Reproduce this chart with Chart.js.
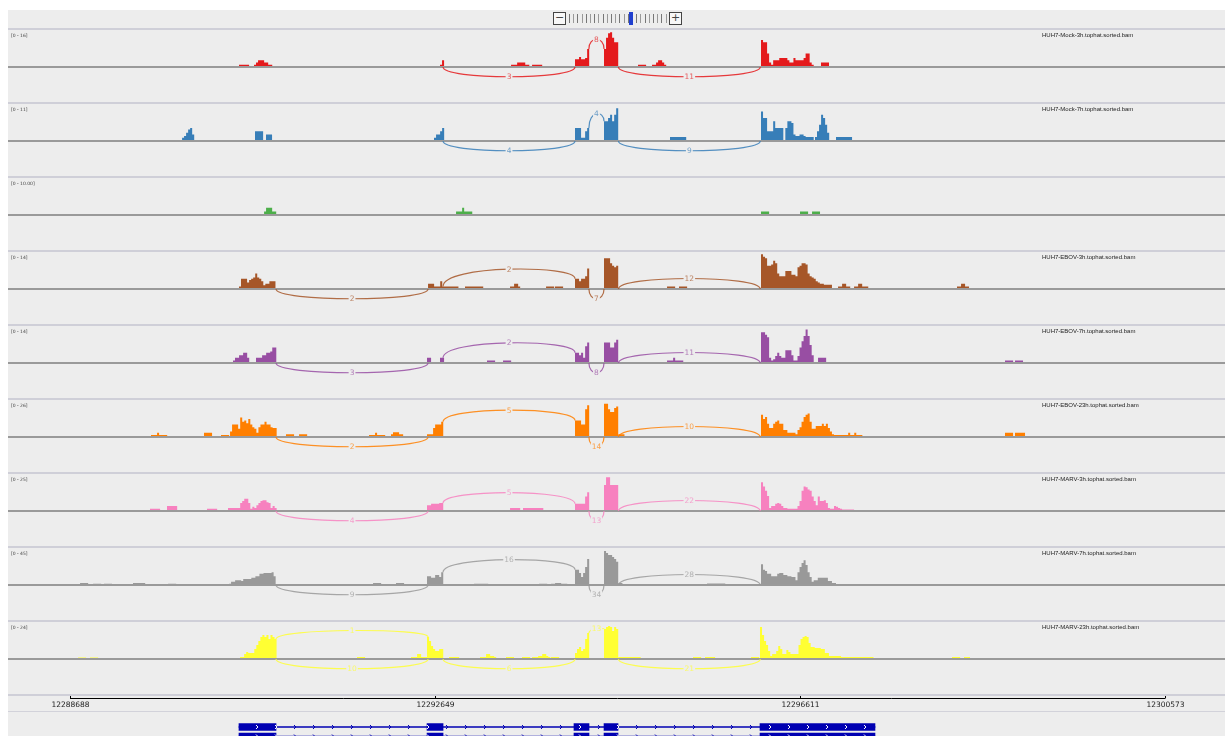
<!DOCTYPE html>
<html>
<head>
<meta charset="utf-8">
<script src="https://cdn.jsdelivr.net/npm/chart.js@4.4.1/dist/chart.umd.min.js"></script>
<style>
  body { margin: 0; width: 1225px; height: 736px; overflow: hidden; background: #fff; font-family: "DejaVu Sans", sans-serif; position: relative; }
  #panel { position: absolute; left: 8px; top: 10px; width: 1217px; height: 726px; background: #ededed; }
  .trk { position: absolute; left: 8px; }
  .sep { position: absolute; left: 8px; width: 1217px; height: 2px; background: #cfcfd8; }
  .rng { position: absolute; left: 11px; font-size: 4.5px; color: #444; white-space: nowrap; }
  .nm { position: absolute; left: 1042px; font-family: "Liberation Sans", sans-serif; font-size: 6px; color: #222; white-space: nowrap; }
  .zb { position: absolute; top: 0; width: 11px; height: 11px; border: 1px solid #444; background: #f7f7f7; font: 11px/10px "DejaVu Sans"; text-align: center; color: #444; }
  .zt { position: absolute; top: 2px; width: 1px; height: 9px; background: #777; }
</style>
</head>
<body>
<div id="panel"></div>
<div id="zoomw" style="position:absolute;left:553px;top:12px;width:130px;height:14px;"></div>
<canvas id="gene" class="trk" width="1217" height="56" style="top:694px"></canvas>
<script>
// view window (genomic coordinates) and coverage bin size
const VIEW_MIN = 12288015;
const VIEW_MAX = 12301224;
const BIN = 22;

const axisTicks = [12288688, 12292649, 12296611, 12300573];

const trackNames = ['HUH7-Mock-3h.tophat.sorted.bam', 'HUH7-Mock-7h.tophat.sorted.bam', '',
  'HUH7-EBOV-3h.tophat.sorted.bam', 'HUH7-EBOV-7h.tophat.sorted.bam', 'HUH7-EBOV-23h.tophat.sorted.bam',
  'HUH7-MARV-3h.tophat.sorted.bam', 'HUH7-MARV-7h.tophat.sorted.bam', 'HUH7-MARV-23h.tophat.sorted.bam'];
const trackRanges = ['16', '11', '10.00', '14', '14', '26', '25', '45', '24'];
const trackMax = [16, 11, 10, 14, 14, 26, 25, 45, 24];
const trackColors = ['#e41a1c', '#377eb8', '#4daf4a', '#a65628', '#984ea3', '#ff7f00', '#f781bf', '#999999', '#ffff33'];

// coverage: [region start, depth per bin]
const covMock3h = [
  [12290522, [1, 1, 1, 1, 1]],
  [12290685, [1, 2, 3, 3, 3, 2, 2, 1, 1]],
  [12292704, [1, 3]],
  [12293475, [1, 1, 1, 2, 2, 2, 2, 1, 1]],
  [12293703, [1, 1, 1, 1, 1]],
  [12294169, [3.5, 3.5, 4.5, 3.5, 3.5, 4, 8]],
  [12294484, [8, 13, 15, 15.5, 13, 11, 11]],
  [12294853, [1, 1, 1, 1]],
  [12295005, [1, 1, 2, 3, 3, 2, 1]],
  [12296188, [12, 11, 11, 6, 2, 1, 3, 3, 3, 4, 4, 4, 4, 3, 2, 2, 4, 3, 3, 3, 3, 4, 6, 6, 2, 1]],
  [12296839, [2, 2, 2, 2]]
];
const covMock7h = [
  [12289904, [1, 1.5, 2.5, 3.5, 4, 2]],
  [12290696, [3, 3, 3, 3]],
  [12290815, [2, 2, 2]],
  [12292639, [1, 2, 2, 3, 4]],
  [12294169, [4, 4, 4, 1, 1, 3, 4]],
  [12294484, [6, 6, 7, 8, 6, 8, 10]],
  [12295200, [1.2, 1.2, 1.2, 1.2, 1.2, 1.2, 1.2, 1.2]],
  [12296188, [9, 7, 7, 3, 3, 3, 6, 4, 4, 4, 4, 0, 4, 6, 6, 5.5, 2, 1.5, 1.5, 2, 2, 1.5, 1.2, 1.2, 1.2, 1.2]],
  [12296774, [1.2, 3, 5, 8, 7, 5, 2.5]],
  [12297002, [1.2, 1.2, 1.2, 1.2, 1.2, 1.2, 1.2, 1.2]]
];
const covMock23h = [
  [12290794, [1, 2, 2, 2, 1, 1]],
  [12292878, [1, 1, 1, 2, 1, 1, 1, 1]],
  [12296188, [1, 1, 1, 1]],
  [12296611, [1, 1, 1, 1]],
  [12296742, [1, 1, 1, 1]]
];
const covEbov3h = [
  [12290522, [1, 4, 4, 4, 2.5, 3.5, 4, 4.5, 6, 4.5, 4, 3, 1.5, 2, 2, 3, 3, 3]],
  [12292574, [2, 2, 2, 1, 1, 1, 3, 1, 1, 1, 1, 1, 1, 1, 1]],
  [12292975, [1, 1, 1, 1, 1, 1, 1, 1, 1]],
  [12293464, [1, 1, 2, 2, 1]],
  [12293855, [1, 1, 1, 1]],
  [12293952, [1, 1, 1, 1]],
  [12294169, [4, 4, 3, 4, 4, 5, 8]],
  [12294484, [12, 12, 12, 10, 9, 8.5, 9]],
  [12295168, [1, 1, 1, 1]],
  [12295298, [1, 1, 1, 1]],
  [12296188, [13.5, 12.5, 12, 9, 9, 9.5, 11, 10, 6, 5, 5, 5, 7, 7, 7, 5.5, 5.5, 5, 8.5, 9, 10, 10, 9.5, 6, 5, 4.5, 4, 3, 2.5, 2, 2, 1.7, 1.7, 1.7, 1.7]],
  [12297024, [1, 1, 2, 2, 1, 1]],
  [12297198, [1, 1, 2, 2, 1, 1, 1]],
  [12298315, [1, 1, 2, 2, 1, 1]]
];
const covEbov7h = [
  [12290457, [1, 2, 2, 3, 3, 4, 4, 2]],
  [12290707, [2, 2, 2, 3, 3, 4, 4, 4.5, 6, 6]],
  [12292563, [2, 2]],
  [12292704, [2, 2]],
  [12293214, [1, 1, 1, 1]],
  [12293388, [1, 1, 1, 1]],
  [12294169, [4, 4, 3, 4, 2, 6.5, 8]],
  [12294484, [8, 8, 8, 6, 6, 8, 9]],
  [12295168, [1, 1, 1, 2, 1, 1, 1, 1]],
  [12296188, [12, 12, 11, 10, 2, 1, 1.5, 2.7, 4, 2.7, 2, 2, 5, 5, 5, 3, 1, 1, 2.7, 6, 8.5, 10.5, 13, 10.5, 7, 3]],
  [12296807, [2, 2, 2, 2]],
  [12298836, [1, 1, 1, 1]],
  [12298945, [1, 1, 1, 1]]
];
const covEbov23h = [
  [12289567, [1.5, 1.5, 1.5, 3, 1.5, 1.5, 1.5, 1.5]],
  [12290142, [3, 3, 3, 3]],
  [12290327, [1.5, 1.5, 1.5, 1.5]],
  [12290425, [4, 9, 9, 9, 6, 14, 11, 12, 10, 13, 9, 7, 6, 3, 7, 9, 9, 11, 9, 9, 7, 6.5, 6.5]],
  [12291032, [2, 2, 2, 2]],
  [12291174, [2, 2, 2, 2]],
  [12291933, [1.5, 1.5, 1.5, 3, 1.5, 1.5, 1.5, 1.5]],
  [12292172, [2, 3.5, 3.5, 3.5, 2, 2]],
  [12292563, [2, 2, 2, 6.5, 9, 9, 9, 11]],
  [12294169, [12, 12, 12, 9, 9, 20, 23]],
  [12294484, [24, 24, 20, 18, 18, 21, 22]],
  [12294640, [2, 2, 2]],
  [12296188, [16, 13, 14.5, 9.5, 6.5, 6.5, 9.5, 11, 12, 9.5, 9.5, 5, 5, 3, 3, 3, 3, 2, 5, 7, 11, 14.5, 16, 17, 11, 6, 6, 8, 8, 8, 9.5, 8, 9.5, 6.5, 4, 2, 1.5, 1.5, 1.5, 1.5, 1.5, 1.5, 1.5, 3, 1.5, 1.5, 3, 1.5, 1.5, 1.5]],
  [12298836, [3, 3, 3, 3]],
  [12298945, [3, 3, 3, 3, 3]]
];
const covMarv3h = [
  [12289556, [1.5, 1.5, 1.5, 1.5, 1.5]],
  [12289741, [3.5, 3.5, 3.5, 3.5, 3.5]],
  [12290175, [1.5, 1.5, 1.5, 1.5, 1.5]],
  [12290403, [2, 2, 2, 2, 2, 2, 5.5, 7, 8.5, 8.5, 5.5, 1.5, 3, 2, 4, 5.5, 7, 7.5, 7.5, 6, 5.5, 2, 3.5, 2]],
  [12292563, [4, 4, 5, 5, 5, 5, 5.5, 5.5]],
  [12293464, [2, 2, 2, 2, 2]],
  [12293605, [2, 2, 2, 2, 2, 2, 2, 2, 2, 2]],
  [12294169, [5, 5, 5, 5, 5, 10, 13]],
  [12294484, [18, 23.5, 23.5, 18, 18, 18, 18]],
  [12296188, [20, 17, 14, 10.5, 2, 3.5, 3.5, 5, 5.5, 5, 3.5, 2, 2, 1.5, 1.5, 1.5, 1.5, 1.5, 3.5, 7, 14, 17, 16.5, 15, 14, 10, 7, 4, 10, 7, 7, 7.5, 5.5, 2, 1.5, 1.5, 3.5, 3, 2, 1.5, 1, 1, 1, 1, 1, 1]]
];
const covMarv7h = [
  [12288797, [2.5, 2.5, 2.5, 2.5]],
  [12288938, [1.5, 1.5, 1.5, 1.5]],
  [12289057, [1.5, 1.5, 1.5, 1.5]],
  [12289372, [2.5, 2.5, 2.5, 2.5, 2.5, 2.5]],
  [12289752, [1.5, 1.5, 1.5, 1.5]],
  [12290414, [1.5, 4, 4, 6, 6, 6, 5, 7.5, 7.5, 7.5, 7.5, 9, 9, 11, 11, 14, 14, 15, 15, 15, 15, 16, 11]],
  [12291977, [2.5, 2.5, 2.5, 2.5]],
  [12292226, [2.5, 2.5, 2.5, 2.5]],
  [12292563, [11, 11, 9, 9, 12.5, 12.5, 10, 16]],
  [12293073, [1.5, 1.5, 1.5, 1.5, 1.5, 1.5, 1.5]],
  [12293779, [1.5, 1.5, 1.5, 1.5]],
  [12293909, [1.5, 1.5, 2.5, 2.5, 2.5, 1.5, 1.5, 1.5]],
  [12294169, [19, 19, 15, 10, 15, 22.5, 32.5]],
  [12294484, [42.5, 40, 37.5, 37.5, 35, 32.5, 29]],
  [12294640, [2.5, 2.5]],
  [12295602, [2, 2, 2, 2, 2, 2, 2, 2, 2]],
  [12296188, [26, 19, 17.5, 14, 14, 11, 11, 11, 14, 15, 15, 12.5, 12.5, 11, 11, 10, 10, 6, 16, 22.5, 27.5, 31, 25, 16, 10, 4, 6, 6, 9, 9, 9, 9, 9, 5, 5, 2.5, 2.5]]
];
const covMarv23h = [
  [12288775, [1, 1, 1, 1]],
  [12288905, [1, 1, 1, 1]],
  [12290468, [0.7, 0.7, 0.7, 1.3, 1.3, 3.3, 4.7, 4, 4, 4, 6.7, 9.3, 12, 14.7, 16, 14.7, 16, 13.3, 16, 14.7, 13.3]],
  [12291803, [1.3, 1.3, 1.3, 1.3]],
  [12292389, [1.3, 1.3, 1.3, 3.3, 3.3, 1.3, 1.3, 1.3]],
  [12292563, [14.7, 12, 8.7, 6.7, 5.3, 5.3, 6.7, 6.7]],
  [12292802, [1.3, 1.3, 1.3, 1.3, 1.3]],
  [12293138, [1.3, 1.3, 1.3, 3.3, 3.3, 2, 2, 1.3]],
  [12293420, [1.3, 1.3, 1.3, 1.3]],
  [12293594, [1.3, 1.3, 1.3, 1.3]],
  [12293703, [1.3, 1.3, 1.3, 2, 2, 3.3, 3.3, 2, 1.3]],
  [12293909, [1.3, 1.3, 1.3, 1.3]],
  [12294169, [4, 6.7, 8, 5.3, 6.7, 13.3, 17.3]],
  [12294484, [20, 21.3, 22, 21.3, 18.7, 21.3, 20]],
  [12294640, [1.3, 1.3, 1.3, 1.3, 1.3, 1.3, 1.3, 1.3, 1.3, 1.3, 1.3]],
  [12295450, [1.3, 1.3, 1.3, 1.3]],
  [12295580, [1.3, 1.3, 1.3, 1.3, 1.3]],
  [12296080, [1.3, 1.3, 1.3, 1.3]],
  [12296177, [21.3, 16, 12, 9.3, 5.3, 2, 3.3, 3.3, 5.3, 8.7, 6.7, 3.3, 3.3, 6, 4.7, 3.3, 3.3, 3.3, 3.3, 9.3, 13.3, 14.7, 15.3, 14.7, 10.7, 8, 8, 7.3, 7.3, 7.3, 6.7, 6.7, 4, 4, 2, 2, 2, 2, 2, 2,
    1.3, 1.3, 1.3, 1.3, 1.3, 1.3, 1.3, 1.3, 1.3, 1.3, 1.3, 1.3, 1.3, 1.3, 1.3, 1.3]],
  [12298261, [1.3, 1.3, 1.3, 1.3]],
  [12298391, [1.3, 1.3, 1.3]]
];

// splice junctions: [intron start, intron end, read count, side]
const jxMock3h = [[12292737, 12294169, 3, 'down'], [12294320, 12294484, 8, 'up'], [12294640, 12296180, 11, 'down']];
const jxMock7h = [[12292737, 12294169, 4, 'down'], [12294320, 12294484, 4, 'up'], [12294640, 12296180, 9, 'down']];
const jxMock23h = [];
const jxEbov3h = [[12290924, 12292574, 2, 'down'], [12292737, 12294169, 2, 'up'], [12294320, 12294484, 7, 'down'], [12294640, 12296180, 12, 'up']];
const jxEbov7h = [[12290924, 12292574, 3, 'down'], [12292737, 12294169, 2, 'up'], [12294320, 12294484, 8, 'down'], [12294640, 12296180, 11, 'up']];
const jxEbov23h = [[12290924, 12292574, 2, 'down'], [12292737, 12294169, 5, 'up'], [12294320, 12294484, 14, 'down'], [12294640, 12296180, 10, 'up']];
const jxMarv3h = [[12290924, 12292574, 4, 'down'], [12292737, 12294169, 5, 'up'], [12294320, 12294484, 13, 'down'], [12294640, 12296180, 22, 'up']];
const jxMarv7h = [[12290924, 12292574, 9, 'down'], [12292737, 12294169, 16, 'up'], [12294320, 12294484, 34, 'down'], [12294640, 12296180, 28, 'up']];
const jxMarv23h = [[12290924, 12292574, 1, 'up'], [12290924, 12292574, 10, 'down'], [12292737, 12294169, 6, 'down'], [12294320, 12294484, 13, 'up'], [12294640, 12296180, 21, 'down']];

// gene model
const transcripts = ['tx1', 'tx2'];
const exonStarts = [12290522, 12292563, 12294158, 12294484, 12296177];
const exonEnds = [12290924, 12292737, 12294321, 12294636, 12297425];

const allCov = [covMock3h, covMock7h, covMock23h, covEbov3h, covEbov7h, covEbov23h, covMarv3h, covMarv7h, covMarv23h];
const allJx = [jxMock3h, jxMock7h, jxMock23h, jxEbov3h, jxEbov7h, jxEbov23h, jxMarv3h, jxMarv7h, jxMarv23h];
const GENE_COLOR = '#0000b2';
const BG = '#ededed';

let depthAt = (cov, pos) => {
  for (const [s, vals] of cov) {
    const i = Math.floor((pos - s) / BIN);
    if (i >= 0 && i < vals.length) return vals[i];
  }
  return 0;
}

let sashimi = (cov, junctions, color) => ({
  id: 'sashimi',
  afterDatasetsDraw(chart) {
    const {ctx, chartArea} = chart;
    const x = chart.scales.x, y = chart.scales.y;
    const yb = y.getPixelForValue(0);
    ctx.save();
    ctx.strokeStyle = '#9a9a9a';
    ctx.lineWidth = 2;
    ctx.beginPath();
    ctx.moveTo(chartArea.left, yb);
    ctx.lineTo(chartArea.right, yb);
    ctx.stroke();

    junctions.forEach(([s, e, n, side]) => {
      const x1 = x.getPixelForValue(s), x2 = x.getPixelForValue(e);
      let y1 = yb, y2 = yb, cy;
      if (side === 'up') {
        y1 = y.getPixelForValue(depthAt(cov, s - 1));
        y2 = y.getPixelForValue(depthAt(cov, e + 1));
        cy = Math.max(Math.min(y1, y2) - 14, yb - 31);
      } else {
        cy = yb + 13;
      }
      ctx.globalAlpha = 0.85;
      ctx.strokeStyle = color;
      ctx.lineWidth = 1.2;
      ctx.beginPath();
      ctx.moveTo(x1, y1);
      ctx.bezierCurveTo(x1, cy, x2, cy, x2, y2);
      ctx.stroke();

      // count label on the apex
      const lx = (x1 + x2) / 2, ly = (y1 + y2) / 8 + 0.75 * cy;
      ctx.font = '7.5px "DejaVu Sans"';
      const w = ctx.measureText(String(n)).width;
      ctx.globalAlpha = 1;
      ctx.fillStyle = BG;
      ctx.fillRect(lx - w / 2 - 1, ly - 4, w + 2, 8);
      ctx.globalAlpha = 0.7;
      ctx.fillStyle = color;
      ctx.textAlign = 'center';
      ctx.textBaseline = 'middle';
      ctx.fillText(String(n), lx, ly + 0.5);
    });
    ctx.restore();
  }
});

const trackTop = 28, trackH = 74;
const body = document.body;

allCov.forEach((cov, k) => {
  const top = trackTop + k * trackH;
  const sep = document.createElement('div');
  sep.className = 'sep';
  sep.style.top = top + 'px';
  body.appendChild(sep);

  const cv = document.createElement('canvas');
  cv.className = 'trk';
  cv.width = 1217; cv.height = trackH;
  cv.style.top = top + 'px';
  body.appendChild(cv);

  const rng = document.createElement('div');
  rng.className = 'rng';
  rng.style.top = (top + 5) + 'px';
  rng.textContent = '[0 - ' + trackRanges[k] + ']';
  body.appendChild(rng);

  if (trackNames[k]) {
    const nm = document.createElement('div');
    nm.className = 'nm';
    nm.style.top = (top + 4) + 'px';
    nm.textContent = trackNames[k];
    body.appendChild(nm);
  }

  const pts = [];
  cov.forEach(([start, vals]) => {
    vals.forEach((v, i) => pts.push({x: start + i * BIN, y: v}));
    pts.push({x: start + vals.length * BIN, y: 0});
  });
  const m = trackMax[k];
  new Chart(cv, {
    type: 'line',
    data: {
      datasets: [{
        data: pts,
        stepped: 'before',
        fill: 'origin',
        backgroundColor: trackColors[k],
        borderColor: trackColors[k],
        borderWidth: 0,
        pointRadius: 0
      }]
    },
    options: {
      responsive: false,
      animation: false,
      events: [],
      layout: {padding: 0},
      plugins: {legend: {display: false}, tooltip: {enabled: false}},
      scales: {
        x: {type: 'linear', min: VIEW_MIN, max: VIEW_MAX, display: false},
        y: {min: -m * 35 / 36, max: m * 39 / 36, display: false}
      }
    },
    plugins: [sashimi(cov, allJx[k], trackColors[k])]
  });
});

// separators around the ruler
[694, 711].forEach((t, i) => {
  const sep = document.createElement('div');
  sep.className = 'sep';
  sep.style.top = t + 'px';
  if (i === 1) { sep.style.height = '1px'; sep.style.background = '#d2d2da'; }
  body.appendChild(sep);
});

// ruler + gene model
const rulerPlugin = {
  id: 'ruler',
  afterDraw(chart) {
    const {ctx} = chart;
    const x = chart.scales.x, y = chart.scales.y;
    ctx.save();
    const ax0 = x.getPixelForValue(axisTicks[0]), ax1 = x.getPixelForValue(axisTicks[axisTicks.length - 1]);
    ctx.strokeStyle = '#000';
    ctx.lineWidth = 1;
    ctx.beginPath();
    ctx.moveTo(ax0, 4.5);
    ctx.lineTo(ax1, 4.5);
    ctx.stroke();
    ctx.font = '7.5px "DejaVu Sans"';
    ctx.fillStyle = '#222';
    ctx.textAlign = 'center';
    ctx.textBaseline = 'middle';
    axisTicks.forEach(t => {
      const px = Math.round(x.getPixelForValue(t)) + 0.5;
      ctx.beginPath();
      ctx.moveTo(px, 1);
      ctx.lineTo(px, 4.5);
      ctx.stroke();
      ctx.fillText(String(t), px, 11.5);
    });

    // strand chevrons
    const g0 = x.getPixelForValue(exonStarts[0]), g1 = x.getPixelForValue(exonEnds[exonEnds.length - 1]);
    ctx.lineWidth = 1;
    transcripts.forEach((t, r) => {
      const ry = y.getPixelForValue(r);
      for (let px = g0 + 18; px < g1 - 3; px += 19) {
        const inExon = exonStarts.some((s, i) => px > x.getPixelForValue(s) && px < x.getPixelForValue(exonEnds[i]));
        ctx.strokeStyle = inExon ? '#ffffff' : GENE_COLOR;
        ctx.beginPath();
        ctx.moveTo(px - 1, ry - 2);
        ctx.lineTo(px + 1, ry);
        ctx.lineTo(px - 1, ry + 2);
        ctx.stroke();
      }
    });
    ctx.restore();
  }
};

new Chart(document.getElementById('gene'), {
  type: 'bar',
  data: {
    labels: transcripts,
    datasets: [
      {
        data: transcripts.map(t => ({y: t, x: [exonStarts[0], exonEnds[exonEnds.length - 1]]})),
        backgroundColor: GENE_COLOR,
        barThickness: 1,
        grouped: false,
        order: 2
      },
      {
        data: transcripts.flatMap(t => exonStarts.map((s, i) => ({y: t, x: [s, exonEnds[i]]}))),
        backgroundColor: GENE_COLOR,
        barThickness: 7,
        grouped: false,
        order: 1
      }
    ]
  },
  options: {
    indexAxis: 'y',
    responsive: false,
    animation: false,
    events: [],
    layout: {padding: {top: 28.25, bottom: 8.75, left: 0, right: 0}},
    plugins: {legend: {display: false}, tooltip: {enabled: false}},
    scales: {
      x: {type: 'linear', min: VIEW_MIN, max: VIEW_MAX, display: false},
      y: {display: false}
    }
  },
  plugins: [rulerPlugin]
});

// zoom widget on top
const zw = document.getElementById('zoomw');
zw.innerHTML = '<div class="zb" style="left:0">\u2212</div><div class="zb" style="left:116px">+</div>';
for (let i = 0; i < 24; i++) {
  const t = document.createElement('div');
  t.className = 'zt';
  t.style.left = (16 + i * 4.2) + 'px';
  if (i % 2) t.style.background = '#999';
  zw.appendChild(t);
}
const mark = document.createElement('div');
mark.style.cssText = 'position:absolute;left:76px;top:0;width:4px;height:13px;background:#1f3fcf;';
zw.appendChild(mark);
</script>
</body>
</html>
